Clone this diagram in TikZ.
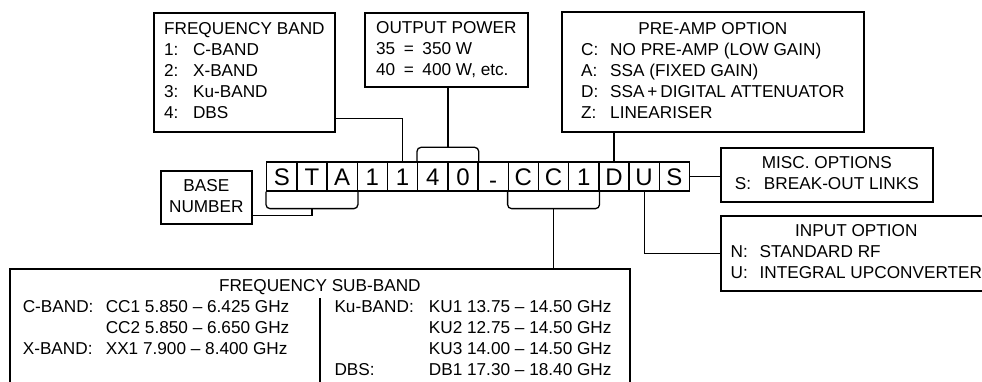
\documentclass[tikz,border=0pt]{standalone}
\usepackage{fontspec}
\setmainfont{Liberation Sans}
\usepackage{array}
\usetikzlibrary{positioning,calc}
\setlength{\arrayrulewidth}{1.3pt}
\newcommand{\boxfont}{\fontsize{17.2}{21}\selectfont}
\newcommand{\optln}[2]{\makebox[29pt][l]{#1}#2}
\newcommand{\lowdash}{\raisebox{-3pt}{-}}
\tikzset{
  optbox/.style={rectangle, draw=black, line width=1.7pt,
    anchor=north west, inner sep=0pt, font=\boxfont},
  cell/.style={rectangle, draw=black, line width=1.3pt, anchor=west,
    minimum width=30.2pt, minimum height=29pt, inner sep=0pt,
    text height=17.5pt, text depth=0pt, font=\fontsize{24}{24}\selectfont},
  conn/.style={line width=1.3pt},
  brace/.style={line width=1.3pt, rounded corners=4pt}
}

\begin{document}
\begin{tikzpicture}[x=1pt, y=-1pt]
\useasboundingbox (0,0) rectangle (982,382);
\clip (0,0) rectangle (982,382);
\fill[white] (0,0) rectangle (982,382);

%% ── CODE CELLS ─────────────────────────────────────────────────────
\foreach \ch [count=\i] in {S,T,A,1,1,4,0,\lowdash,C,C,1,D,U,S}
  \node[cell] (c\i) at ({266+30.2*(\i-1)},176.5) {\ch};

%% ── OPTION BOXES ───────────────────────────────────────────────────
\node[optbox, minimum width=181pt, minimum height=119pt] (band) at (153,12)
  {\begin{tabular}{@{}l@{}}
    FREQUENCY BAND\\
    \optln{1:}{C-BAND}\\
    \optln{2:}{X-BAND}\\
    \optln{3:}{Ku-BAND}\\
    \optln{4:}{DBS}
  \end{tabular}};
\node[optbox, minimum width=163pt, minimum height=74pt] (power) at (364,12)
  {\begin{tabular}{@{}l@{}}
    OUTPUT POWER\\
    35\enspace=\enspace350 W\\
    40\enspace=\enspace400 W, etc.
  \end{tabular}};
\node[optbox, minimum width=302pt, minimum height=120pt] (preamp) at (561,11)
  {\begin{tabular}{@{}l@{}}
    \multicolumn{1}{c}{PRE-AMP OPTION}\\
    \optln{C:}{NO PRE-AMP (LOW GAIN)}\\
    \optln{A:}{SSA (FIXED GAIN)}\\
    \optln{D:}{SSA\,+\,DIGITAL ATTENUATOR}\\
    \optln{Z:}{LINEARISER}
  \end{tabular}};
\node[optbox, minimum width=212pt, minimum height=54pt] (misc) at (720,147)
  {\begin{tabular}{@{}l@{}}
    \multicolumn{1}{c}{MISC. OPTIONS}\\
    \optln{S:}{BREAK-OUT LINKS}
  \end{tabular}};
\node[optbox, minimum width=271pt, minimum height=75pt] (input) at (720,215)
  {\begin{tabular}{@{}l@{}}
    \multicolumn{1}{c}{INPUT OPTION}\\
    \optln{N:}{STANDARD RF}\\
    \optln{U:}{INTEGRAL UPCONVERTER}
  \end{tabular}};
\node[optbox, minimum width=91pt, minimum height=53pt] (base) at (160,170)
  {\begin{tabular}{@{}c@{}}BASE\\NUMBER\end{tabular}};

%% Sub-band table (runs off the bottom)
\node[optbox, minimum width=620pt, inner ysep=7.8pt] (sub) at (9,268)
  {\begin{tabular}{@{}p{83pt}@{}p{213.4pt}@{}|@{\hspace{14pt}}p{94.4pt}@{}p{188pt}@{}}
    \multicolumn{4}{c}{FREQUENCY SUB-BAND}\\
    C-BAND: & CC1 5.850 -- 6.425 GHz & Ku-BAND: & KU1 13.75 -- 14.50 GHz\\
            & CC2 5.850 -- 6.650 GHz &          & KU2 12.75 -- 14.50 GHz\\
    X-BAND: & XX1 7.900 -- 8.400 GHz &          & KU3 14.00 -- 14.50 GHz\\
            &                        & DBS:     & DB1 17.30 -- 18.40 GHz\\[10pt]
  \end{tabular}};

%% ── BRACES ─────────────────────────────────────────────────────────
\draw[brace] (c6.north west) -- ++(0,-14) -| (c7.north east);
\coordinate (pw) at ($(c6.north west)!0.5!(c7.north east)+(0,-14)$);
\draw[brace] (c1.south west) -- ++(0,17) -| (c3.south east);
\coordinate (sta) at ($(c1.south west)!0.5!(c3.south east)+(0,17)$);
\draw[brace] (c9.south west) -- ++(0,17) -| (c11.south east);
\coordinate (sbd) at ($(c9.south west)!0.5!(c11.south east)+(0,17)$);

%% ── CONNECTORS ─────────────────────────────────────────────────────
\draw[conn] ([yshift=14pt]band.south east) -| (c5.north);
\draw[conn] (power.south -| pw) -- (pw);
\draw[conn] (preamp.south -| c12.north) -- (c12.north);
\draw[conn] (c14.east) -- (c14.east -| misc.west);
\draw[conn] (c13.south) |- (input.west);
\draw[conn] (sta) |- ([yshift=-18pt]base.east);
\draw[conn] (sbd) -- (sbd |- sub.north);

\end{tikzpicture}
\end{document}
